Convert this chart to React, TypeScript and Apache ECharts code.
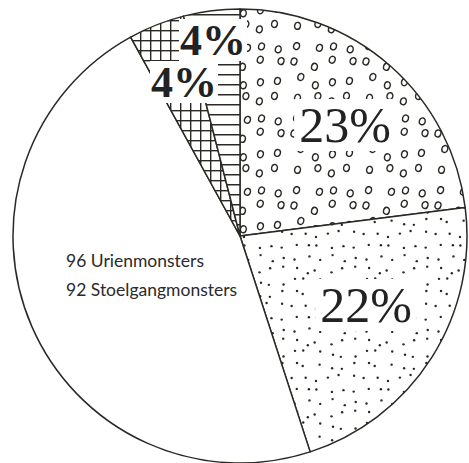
import React, { useEffect, useRef } from "react";
import * as echarts from "echarts";

const categories = ["23%", "22%", "rest", "4% ruit", "4% streep"];
const percentages = [23, 22, 47, 4, 4];
const labelTexts = ["23%", "22%", "96 Urienmonsters\n92 Stoelgangmonsters", "4%", "4%"];

const INK = "#2a2924";

function jit(n: number): number {
  const s = Math.sin(n * 12.9898) * 43758.5453;
  return s - Math.floor(s);
}

function makeTile(w: number, h: number, draw: (ctx: CanvasRenderingContext2D) => void) {
  const c = document.createElement("canvas");
  c.width = w;
  c.height = h;
  const ctx = c.getContext("2d") as CanvasRenderingContext2D;
  ctx.fillStyle = "#ffffff";
  ctx.fillRect(0, 0, w, h);
  draw(ctx);
  return { image: c, repeat: "repeat", imageWidth: w, imageHeight: h } as any;
}

export default function App() {
  const ref = useRef<HTMLDivElement>(null);
  useEffect(() => {
    if (!ref.current) return;
    const chart = echarts.init(ref.current, null, { renderer: "svg" });

    const rings = makeTile(72, 72, (ctx) => {
      ctx.strokeStyle = INK;
      ctx.lineWidth = 1.4;
      let k = 1;
      for (let i = 0; i < 4; i++) {
        for (let j = 0; j < 4; j++) {
          const x = 9 + 18 * i + (jit(k++) - 0.5) * 9;
          const y = 9 + 18 * j + (jit(k++) - 0.5) * 9;
          ctx.beginPath();
          ctx.ellipse(x, y, 2.9, 3.5, 0.3, 0, Math.PI * 2);
          ctx.stroke();
        }
      }
    });
    const dots = makeTile(72, 72, (ctx) => {
      ctx.fillStyle = INK;
      let k = 101;
      for (let i = 0; i < 6; i++) {
        for (let j = 0; j < 6; j++) {
          const x = 6 + 12 * i + (jit(k++) - 0.5) * 7;
          const y = 6 + 12 * j + (jit(k++) - 0.5) * 7;
          ctx.beginPath();
          ctx.arc(x, y, 1.2, 0, Math.PI * 2);
          ctx.fill();
        }
      }
    });
    const grid = makeTile(10, 10, (ctx) => {
      ctx.fillStyle = INK;
      ctx.fillRect(0, 0, 10, 1.4);
      ctx.fillRect(0, 0, 1.4, 10);
    });
    const hlines = makeTile(10, 10, (ctx) => {
      ctx.fillStyle = INK;
      ctx.fillRect(0, 4, 10, 1.5);
    });

    const fills = [rings, dots, "#ffffff", grid, hlines];
    const labelPos: Record<number, any> = {
      0: { x: 345, y: 125, align: "center", verticalAlign: "middle" },
      1: { x: 366, y: 305, align: "center", verticalAlign: "middle" },
      2: { x: 66, y: 246, align: "left", verticalAlign: "top" },
      3: { x: 184, y: 82, align: "center", verticalAlign: "middle" },
      4: { x: 213, y: 40, align: "center", verticalAlign: "middle" },
    };

    const bigLabel = {
      fontFamily: "Liberation Serif",
      fontSize: 50,
      color: "#222",
      backgroundColor: "#ffffff",
      padding: [2, 5, 0, 5],
      lineHeight: 50,
    };
    const smallPct = {
      fontFamily: "Liberation Serif",
      fontWeight: "bold",
      fontSize: 44,
      color: "#222",
      backgroundColor: "#ffffff",
      padding: [0, 1, 0, 1],
      lineHeight: 42,
    };
    const textLabel = {
      fontFamily: "Lato",
      fontSize: 17.5,
      color: "#2a2a2a",
      lineHeight: 29,
    };
    const labelStyles = [bigLabel, bigLabel, textLabel, smallPct, smallPct];

    chart.setOption({
      animation: false,
      backgroundColor: "#ffffff",
      series: [
        {
          type: "pie",
          center: [240, 236],
          radius: 227,
          startAngle: 90,
          clockwise: true,
          avoidLabelOverlap: false,
          emphasis: { disabled: true },
          silent: true,
          itemStyle: { borderColor: INK, borderWidth: 1.5 },
          labelLine: { show: false },
          labelLayout: (p: any) => labelPos[p.dataIndex],
          data: categories.map((name, i) => ({
            name,
            value: percentages[i],
            itemStyle: { color: fills[i] },
            label: {
              show: true,
              position: "inside",
              formatter: labelTexts[i],
              ...labelStyles[i],
            },
          })),
        },
      ],
    });
    return () => chart.dispose();
  }, []);
  return (
    <div
      ref={ref}
      style={{ position: "fixed", left: 0, top: 0, width: 469, height: 463, background: "#fff" }}
    />
  );
}
